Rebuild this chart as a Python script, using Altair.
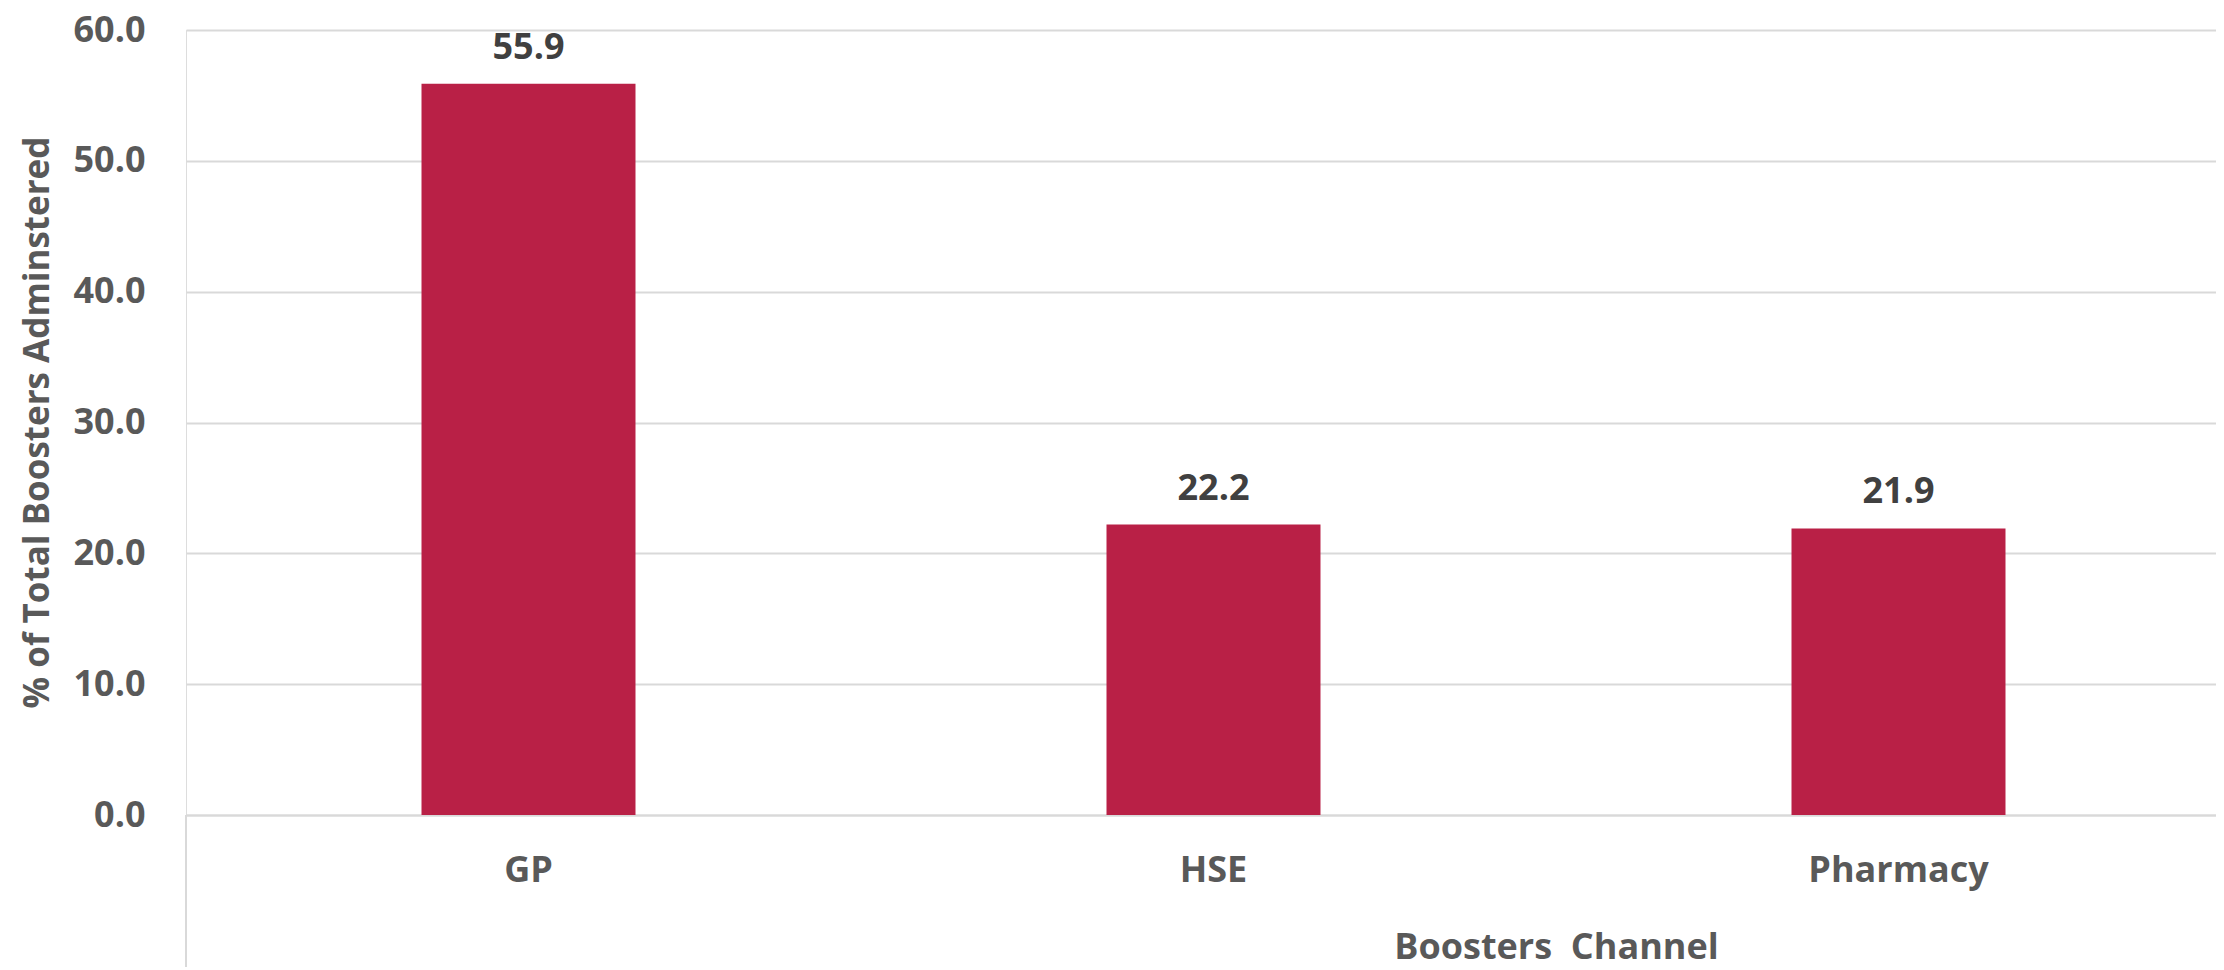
import altair as alt
import pandas as pd

categories = ["GP", "HSE", "Pharmacy"]
values = [55.9, 22.2, 21.9]
y_ticks = [0, 10, 20, 30, 40, 50, 60]

df = pd.DataFrame({"channel": categories, "pct": values})

FONT = "Open Sans"
W, H = 2030, 785

x_enc = alt.X(
    "channel:N",
    sort=categories,
    scale=alt.Scale(paddingInner=0.6876, paddingOuter=0.3438, range=[0, 2055]),
    axis=alt.Axis(
        title="Boosters\u00a0 Channel",
        labelAngle=0, labelLimit=0,
        labelFont=FONT, labelFontSize=36, labelFontWeight="bold", labelColor="#595959",
        labelPadding=38,
        ticks=False,
        domainColor="#D9D9D9", domainWidth=2,
        titleFont=FONT, titleFontSize=36, titleFontWeight="bold", titleColor="#595959",
        titleX=1370, titleY=132, titleAlign="center", titleBaseline="middle",
        grid=False,
    ),
)
y_enc = alt.Y(
    "pct:Q",
    scale=alt.Scale(domain=[0, 60], nice=False),
    axis=alt.Axis(
        title="% of Total Boosters Adminstered",
        values=y_ticks, format=".1f",
        labelFont=FONT, labelFontSize=36, labelFontWeight="bold", labelColor="#595959",
        labelPadding=41,
        ticks=False, domain=False,
        gridColor="#D9D9D9", gridWidth=2,
        titleFont=FONT, titleFontSize=35, titleFontWeight="bold", titleColor="#595959",
        titleAngle=270, titleX=-149, titleY=392, titleAlign="center", titleBaseline="middle",
    ),
)

bars = alt.Chart(df).mark_bar(color="#B92046").encode(x=x_enc, y=y_enc)
labels = alt.Chart(df).mark_text(
    font=FONT, fontSize=36, fontWeight="bold", color="#404040",
    baseline="alphabetic", dy=-25,
).encode(x=alt.X("channel:N", sort=categories), y="pct:Q", text=alt.Text("pct:Q", format=".1f"))

vline = alt.Chart(df).mark_rule(color="#D9D9D9", strokeWidth=2).encode(
    x=alt.value(0), y=alt.value(H), y2=alt.value(H + 160)
)

chart = alt.layer(bars, labels, vline).properties(
    width=W, height=H,
    autosize=alt.AutoSizeParams(type="none"),
    padding={"left": 178, "top": 22, "right": 0, "bottom": 152},
).configure_view(stroke=None).configure(background="white")

chart.save("out.html", embed_options={"renderer": "svg", "actions": False})
